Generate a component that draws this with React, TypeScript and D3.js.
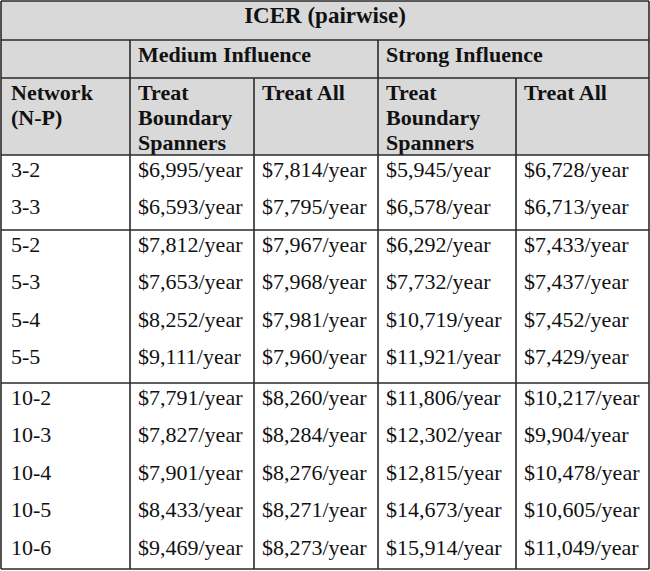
import React, { useRef, useEffect } from 'react';
import * as d3 from 'd3';

const title = "ICER (pairwise)";
const influenceGroups = ["Medium Influence", "Strong Influence"];
const subHeaders = [["Network", "(N-P)"], ["Treat", "Boundary", "Spanners"], ["Treat All"], ["Treat", "Boundary", "Spanners"], ["Treat All"]];

const networks = ["3-2", "3-3", "5-2", "5-3", "5-4", "5-5", "10-2", "10-3", "10-4", "10-5", "10-6"];
const groupOf = [0, 0, 1, 1, 1, 1, 2, 2, 2, 2, 2];
const mediumBoundary = [6995, 6593, 7812, 7653, 8252, 9111, 7791, 7827, 7901, 8433, 9469];
const mediumAll = [7814, 7795, 7967, 7968, 7981, 7960, 8260, 8284, 8276, 8271, 8273];
const strongBoundary = [5945, 6578, 6292, 7732, 10719, 11921, 11806, 12302, 12815, 14673, 15914];
const strongAll = [6728, 6713, 7433, 7437, 7452, 7429, 10217, 9904, 10478, 10605, 11049];

const W = 650, H = 571;

export default function App() {
  const svgRef = useRef<SVGSVGElement>(null);

  useEffect(() => {
    if (!svgRef.current) return;
    const svg = d3.select(svgRef.current);
    svg.selectAll("*").remove();

    const font = "'Liberation Serif', 'Times New Roman', serif";
    const fs = 22;
    const line = "#2a2a2a";
    const headFill = "#d9d9d9";

    // column edges
    const colEdges = [1, 130, 254, 378, 516, 649];
    const left = colEdges[0], right = colEdges[5];
    const titleBottom = 40, infBottom = 78, headBottom = 155, bottom = 569;
    const groupEdges = [headBottom, 230, 383, bottom];

    // row positions: rows start at top of each group
    const rowY = (i: number) => {
      const g = groupOf[i];
      const idx = networks.slice(0, i).filter((_, j) => groupOf[j] === g).length;
      return groupEdges[g] + idx * 37.6;
    };

    const fmt = d3.format(",");
    const money = (v: number) => `$${fmt(v)}/year`;

    // header background
    svg.append("rect").attr("x", left).attr("y", 1).attr("width", right - left).attr("height", headBottom - 1)
      .attr("fill", headFill);

    const text = (x: number, y: number, s: string, bold = false, anchor = "start", size = fs) =>
      svg.append("text").attr("x", x).attr("y", y).attr("text-anchor", anchor)
        .attr("dominant-baseline", "central")
        .style("font-family", font).style("font-size", `${size}px`)
        .style("font-weight", bold ? "bold" : "normal").style("fill", "#111").text(s);

    text(W / 2, 15, title, true, "middle", 23);
    influenceGroups.forEach((g, i) => text(colEdges[1 + i * 2] + 8, 54, g, true));
    subHeaders.forEach((lines, c) => lines.forEach((l, k) => text(colEdges[c] + (c === 0 ? 10 : 8), 92 + k * 25, l, true)));

    // data
    const cols = [networks.map(String), mediumBoundary.map(money), mediumAll.map(money), strongBoundary.map(money), strongAll.map(money)];
    cols.forEach((vals, c) => vals.forEach((v, i) => text(colEdges[c] + (c === 0 ? 10 : 8), rowY(i) + 14, v)));

    // grid lines
    const hl = (y: number) => svg.append("line").attr("x1", left).attr("x2", right).attr("y1", y).attr("y2", y)
      .attr("stroke", line).attr("stroke-width", 1.6);
    const vl = (x: number, y1: number, y2: number) => svg.append("line").attr("x1", x).attr("x2", x).attr("y1", y1).attr("y2", y2)
      .attr("stroke", line).attr("stroke-width", 1.6);

    [1, titleBottom, infBottom, headBottom, ...groupEdges.slice(1)].forEach(hl);
    vl(left, 1, bottom);
    vl(right, 1, bottom);
    vl(colEdges[1], titleBottom, bottom);
    vl(colEdges[3], titleBottom, bottom);
    vl(colEdges[2], infBottom, bottom);
    vl(colEdges[4], infBottom, bottom);
  }, []);

  return <svg ref={svgRef} width={W} height={H} style={{ position: "absolute", left: 0, top: 0, background: "#fff" }}></svg>;
}
